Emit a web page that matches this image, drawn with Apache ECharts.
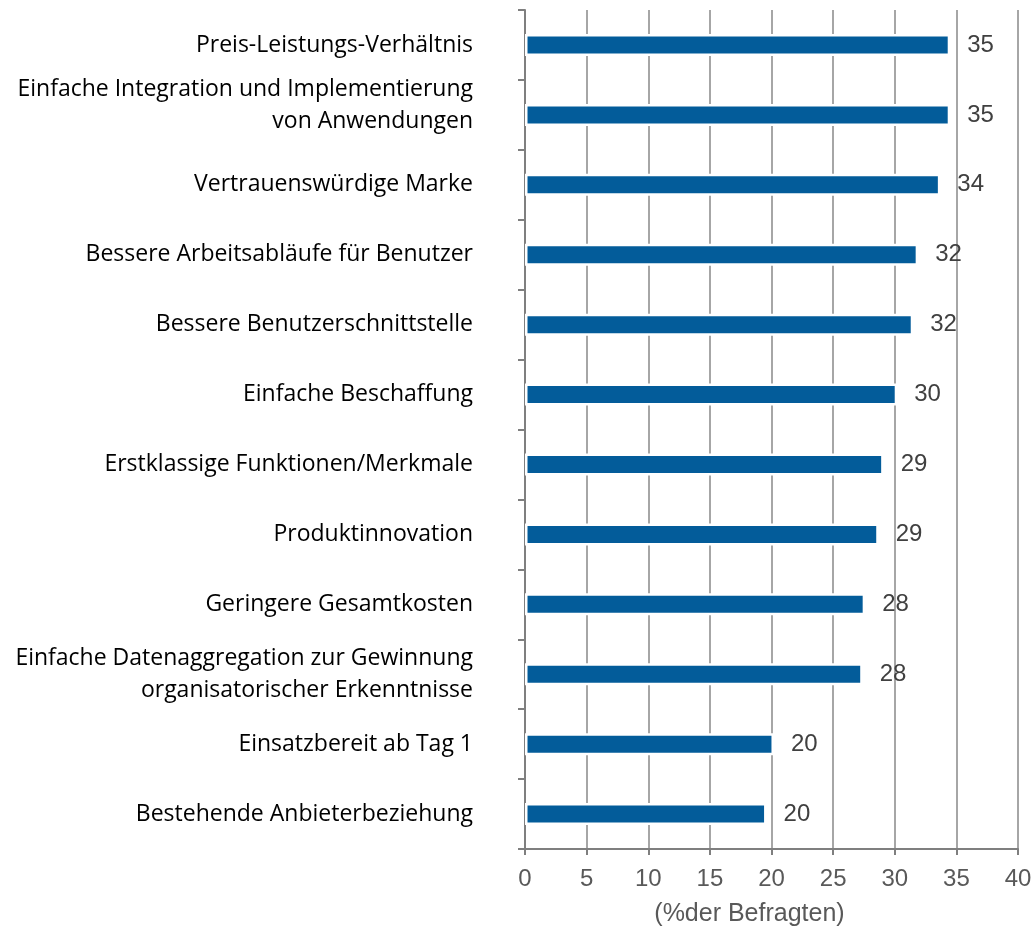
<!DOCTYPE html>
<html>
<head>
<meta charset="utf-8">
<script src="https://cdn.jsdelivr.net/npm/echarts@6/dist/echarts.min.js"></script>
<style>html,body{margin:0;padding:0;background:#fff;}#c{width:1034px;height:929px;}</style>
</head>
<body>
<div id="c"></div>
<script>
const categories = [
  'Preis-Leistungs-Verhältnis',
  'Einfache Integration und Implementierung\nvon Anwendungen',
  'Vertrauenswürdige Marke',
  'Bessere Arbeitsabläufe für Benutzer',
  'Bessere Benutzerschnittstelle',
  'Einfache Beschaffung',
  'Erstklassige Funktionen/Merkmale',
  'Produktinnovation',
  'Geringere Gesamtkosten',
  'Einfache Datenaggregation zur Gewinnung\norganisatorischer Erkenntnisse',
  'Einsatzbereit ab Tag 1',
  'Bestehende Anbieterbeziehung'
];
const values = [34.5, 34.5, 33.7, 31.9, 31.5, 30.2, 29.1, 28.7, 27.6, 27.4, 20.2, 19.6];
const valueLabels = ['35', '35', '34', '32', '32', '30', '29', '29', '28', '28', '20', '20'];
const xTicks = [0, 5, 10, 15, 20, 25, 30, 35, 40];
const axisName = '(%der Befragten)';

const numFont = '"Liberation Sans", Arial, sans-serif';
const chart = echarts.init(document.getElementById('c'), null, {renderer: 'canvas'});
chart.setOption({
  animation: false,
  grid: {left: 525, right: 16, top: 10, bottom: 80, containLabel: false, outerBoundsMode: 'none'},
  xAxis: {
    type: 'value',
    min: xTicks[0],
    max: xTicks[xTicks.length - 1],
    interval: xTicks[1] - xTicks[0],
    axisLine: {show: true, lineStyle: {color: '#7f7f7f', width: 2}},
    axisTick: {show: true, length: 6, lineStyle: {color: '#7f7f7f', width: 2}},
    splitLine: {show: true, lineStyle: {color: '#a6a6a6', width: 2}},
    axisLabel: {color: '#595959', fontFamily: numFont, fontSize: 24, margin: 18},
    name: axisName,
    nameLocation: 'middle',
    nameGap: 53,
    nameTextStyle: {color: '#595959', fontFamily: numFont, fontSize: 25, padding: [0, 44, 0, 0]}
  },
  yAxis: {
    type: 'category',
    inverse: true,
    data: categories,
    axisLine: {show: true, lineStyle: {color: '#7f7f7f', width: 2}},
    axisTick: {show: true, length: 7, inside: false, lineStyle: {color: '#7f7f7f', width: 2}},
    splitLine: {show: false},
    axisLabel: {
      color: '#000', fontFamily: '"Open Sans", "Noto Sans", sans-serif', fontSize: 23, lineHeight: 32, margin: 52, align: 'right',
      formatter: (v, i) => i === 1 ? v + '\n{s| }' : v,
      rich: {s: {fontSize: 2, lineHeight: 18}}
    }
  },
  series: [{
    type: 'bar',
    data: values,
    barWidth: 22,
    itemStyle: {color: '#035c9a', borderColor: '#ffffff', borderWidth: 2.5},
    label: {
      show: true,
      position: 'right',
      distance: 17,
      color: '#404040',
      fontFamily: numFont,
      fontSize: 24,
      formatter: p => valueLabels[p.dataIndex]
    }
  }]
});
</script>
</body>
</html>
